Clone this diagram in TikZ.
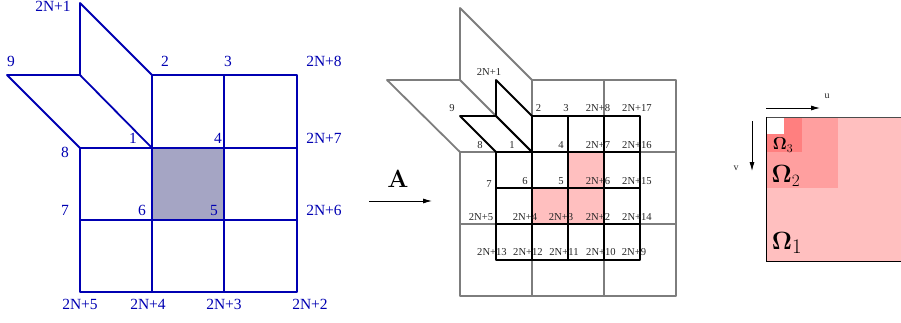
\documentclass[tikz,border=0pt]{standalone}
\usepackage[no-math]{fontspec}
\setmainfont{Liberation Serif}
\usetikzlibrary{arrows.meta}
\definecolor{bl}{RGB}{0,0,178}
\definecolor{cellfill}{RGB}{165,165,196}
\definecolor{pk}{RGB}{255,191,191}
\definecolor{pkb}{RGB}{255,159,159}
\definecolor{pkc}{RGB}{255,127,127}
\definecolor{gr}{RGB}{125,125,125}
\tikzset{
  bluetxt/.style={text=bl,font=\fontsize{15.5}{16}\selectfont,inner sep=0pt},
  smalltxt/.style={text=black!85,font=\fontsize{10.6}{11}\selectfont,inner sep=0pt},
  bluegrid/.style={draw=bl,line width=1.8pt,line join=round},
  graygrid/.style={draw=gr,line width=1.8pt,line join=round},
  blackgrid/.style={draw=black,line width=1.8pt,line join=round},
  axisarrow/.style={draw=black,line width=0.8pt,-{Latex[length=9pt,width=5pt]}},
  omegatxt/.style={inner sep=0pt,text=black}
}
\begin{document}
\begin{tikzpicture}[x=1pt,y=-1pt]
\useasboundingbox (0,0) rectangle (901,322);
% left grid
\fill[cellfill] (152,148) rectangle (224,220);
\foreach \x in {152,224}{\draw[bluegrid] (\x,75)--(\x,292);}
\foreach \y in {148,220}{\draw[bluegrid] (80,\y)--(297,\y);}
\draw[bluegrid] (152,75)--(297,75)--(297,292)--(80,292)--(80,148);
\draw[bluegrid] (152,75)--(80,3)--(80,75)--(152,148)--(80,148)--(7,75)--(80,75);
\foreach \t/\x/\y in {2N+1/53/6,9/11/61,2/165/61,3/228/61,2N+8/324/61,1/133/138,4/218/138,2N+7/324/138,8/65/152,7/65/210,6/142/210,5/214/210,2N+6/324/210,2N+5/80/304,2N+4/148/304,2N+3/224/304,2N+2/310/304}
  {\node[bluetxt] (L\t) at (\x,\y) {\t};}
% arrow A
\node[inner sep=0pt,font=\fontsize{24}{24}\selectfont] (labA) at (398,179) {$\mathbf{A}$};
\coordinate (As) at (369,201); \coordinate (Ae) at (432,201);
\draw[axisarrow] (As)--(Ae);
% middle
\fill[pk] (568,152) rectangle (604,224);
\fill[pk] (532,188) rectangle (568,224);
\foreach \x in {532,604}{\draw[graygrid] (\x,80)--(\x,296);}
\foreach \y in {152,224}{\draw[graygrid] (460,\y)--(676,\y);}
\draw[graygrid] (532,80)--(676,80)--(676,296)--(460,296)--(460,152);
\draw[graygrid] (532,80)--(460,8)--(460,80)--(532,152)--(460,152)--(387,80)--(460,80);
\foreach \x in {532,568,604}{\draw[blackgrid] (\x,116)--(\x,260);}
\foreach \y in {152,188,224}{\draw[blackgrid] (496,\y)--(640,\y);}
\draw[blackgrid] (532,116)--(640,116)--(640,260)--(496,260)--(496,152);
\draw[blackgrid] (532,116)--(496,80)--(496,116)--(532,152)--(496,152)--(460,116)--(496,116);
\foreach \t/\x/\y in {2N+1/489/72,9/452/108,2/538.5/108,3/566/108,2N+8/598/108,2N+17/637/108,8/480/145,1/512/145,4/561/145,2N+7/598/145,2N+16/637/145,7/489/184,6/525/181,5/561/181,2N+6/598/181,2N+15/637/181,2N+5/481/217,2N+4/525/217,2N+3/561/217,2N+2/598/217,2N+14/637/217,2N+13/492/252,2N+12/528/252,2N+11/564/252,2N+10/601/252,2N+9/634/252}
  {\node[smalltxt] (M\t) at (\x,\y) {\t};}
% right
\fill[pk] (766,117) rectangle (901,261);
\fill[pkb] (766,117) rectangle (838,188);
\fill[pkc] (766,117) rectangle (802,152);
\fill[white] (766,117) rectangle (784,134);
\draw[black!70,line width=1pt] (901,117)--(766,117);
\draw[black,line width=1pt] (766,117)--(766,261)--(901,261);
\coordinate (us) at (766,108); \coordinate (ue) at (820,108);
\coordinate (vs) at (752,121); \coordinate (ve) at (752,171);
\draw[axisarrow] (us)--(ue);
\draw[axisarrow] (vs)--(ve);
\node[smalltxt,font=\fontsize{10}{10}\selectfont] (lu) at (827,96) {u};
\node[smalltxt,font=\fontsize{10}{10}\selectfont] (lv) at (736,168) {v};
\node[omegatxt,font=\fontsize{30}{30}\selectfont] (o1) at (787,243) {$\mathbf{\Omega}_1$};
\node[omegatxt,font=\fontsize{26}{26}\selectfont] (o2) at (786,176) {$\mathbf{\Omega}_2$};
\node[omegatxt,font=\fontsize{18}{18}\selectfont] (o3) at (783,145) {$\mathbf{\Omega}_3$};
\end{tikzpicture}
\end{document}
